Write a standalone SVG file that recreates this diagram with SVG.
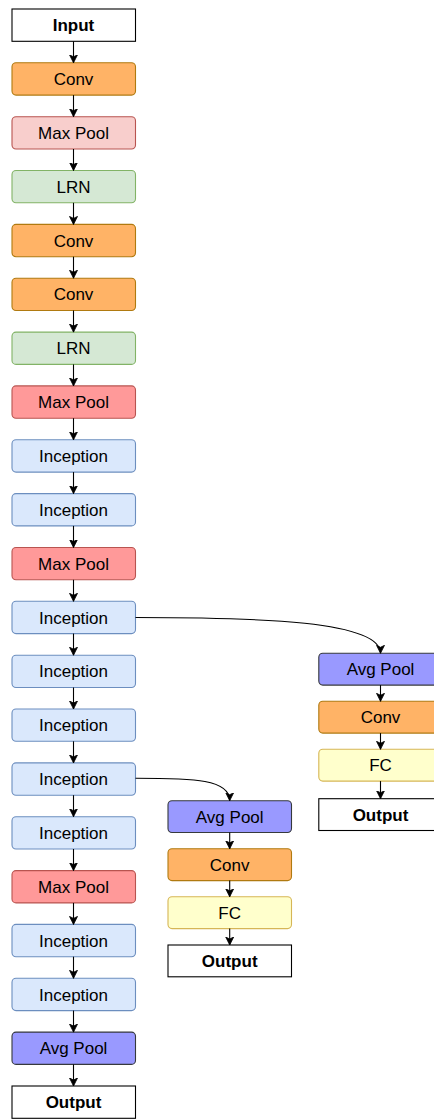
<svg xmlns="http://www.w3.org/2000/svg" width="434" height="1120" viewBox="0 0 434 1120">
  <style>
    .box { stroke-width: 1.1; }
    .io { fill: #ffffff; stroke: #000000; }
    .conv { fill: #FFB366; stroke: #B07A10; }
    .mp1 { fill: #F8CECC; stroke: #B85450; }
    .mp { fill: #FF9999; stroke: #B85450; }
    .lrn { fill: #D5E8D4; stroke: #82B366; }
    .inc { fill: #DAE8FC; stroke: #6C8EBF; }
    .avg { fill: #9999FF; stroke: #36393D; }
    .fc { fill: #FFFFCC; stroke: #D6B656; }
    text { font-family: "Liberation Sans", Arial, Helvetica, sans-serif; font-size: 17px; fill: #000; text-anchor: middle; }
    text.b { font-weight: bold; }
    .edge { fill: none; stroke: #000; stroke-width: 1.1; }
  </style>
  <defs>
    <marker id="arrow" markerWidth="10" markerHeight="10" refX="8" refY="4.5" orient="auto" markerUnits="userSpaceOnUse">
      <path d="M0,0.5 L8,4.5 L0,8.5 L2,4.5 Z" fill="#000" stroke="#000" stroke-width="0.8"/>
    </marker>
  </defs>

  <!-- main column -->
  <g id="input"><rect class="box io" x="12" y="9" width="123.5" height="32.3"/><text class="b" x="73.5" y="31.2">Input</text></g>
  <g id="conv1"><rect class="box conv" x="12" y="62.8" width="123.5" height="32.3" rx="4"/><text x="73.5" y="85">Conv</text></g>
  <g id="maxpool1"><rect class="box mp1" x="12" y="116.7" width="123.5" height="32.3" rx="4"/><text x="73.5" y="138.9">Max Pool</text></g>
  <g id="lrn1"><rect class="box lrn" x="12" y="170.5" width="123.5" height="32.3" rx="4"/><text x="73.5" y="192.7">LRN</text></g>
  <g id="conv2"><rect class="box conv" x="12" y="224.4" width="123.5" height="32.3" rx="4"/><text x="73.5" y="246.6">Conv</text></g>
  <g id="conv3"><rect class="box conv" x="12" y="278.2" width="123.5" height="32.3" rx="4"/><text x="73.5" y="300.4">Conv</text></g>
  <g id="lrn2"><rect class="box lrn" x="12" y="332.1" width="123.5" height="32.3" rx="4"/><text x="73.5" y="354.3">LRN</text></g>
  <g id="maxpool2"><rect class="box mp" x="12" y="385.9" width="123.5" height="32.3" rx="4"/><text x="73.5" y="408.1">Max Pool</text></g>
  <g id="inception3a"><rect class="box inc" x="12" y="439.8" width="123.5" height="32.3" rx="4"/><text x="73.5" y="462">Inception</text></g>
  <g id="inception3b"><rect class="box inc" x="12" y="493.6" width="123.5" height="32.3" rx="4"/><text x="73.5" y="515.8">Inception</text></g>
  <g id="maxpool3"><rect class="box mp" x="12" y="547.5" width="123.5" height="32.3" rx="4"/><text x="73.5" y="569.7">Max Pool</text></g>
  <g id="inception4a"><rect class="box inc" x="12" y="601.3" width="123.5" height="32.3" rx="4"/><text x="73.5" y="623.5">Inception</text></g>
  <g id="inception4b"><rect class="box inc" x="12" y="655.2" width="123.5" height="32.3" rx="4"/><text x="73.5" y="677.4">Inception</text></g>
  <g id="inception4c"><rect class="box inc" x="12" y="709" width="123.5" height="32.3" rx="4"/><text x="73.5" y="731.2">Inception</text></g>
  <g id="inception4d"><rect class="box inc" x="12" y="762.9" width="123.5" height="32.3" rx="4"/><text x="73.5" y="785.1">Inception</text></g>
  <g id="inception4e"><rect class="box inc" x="12" y="816.7" width="123.5" height="32.3" rx="4"/><text x="73.5" y="838.9">Inception</text></g>
  <g id="maxpool4"><rect class="box mp" x="12" y="870.6" width="123.5" height="32.3" rx="4"/><text x="73.5" y="892.8">Max Pool</text></g>
  <g id="inception5a"><rect class="box inc" x="12" y="924.4" width="123.5" height="32.3" rx="4"/><text x="73.5" y="946.6">Inception</text></g>
  <g id="inception5b"><rect class="box inc" x="12" y="978.3" width="123.5" height="32.3" rx="4"/><text x="73.5" y="1000.5">Inception</text></g>
  <g id="avgpool"><rect class="box avg" x="12" y="1032.1" width="123.5" height="32.3" rx="4"/><text x="73.5" y="1054.3">Avg Pool</text></g>
  <g id="output"><rect class="box io" x="12" y="1086" width="123.5" height="32.3"/><text class="b" x="73.5" y="1108.2">Output</text></g>

  <!-- auxiliary classifier 2 -->
  <g id="aux2-avgpool"><rect class="box avg" x="168" y="800.7" width="123.5" height="31.8" rx="4"/><text x="229.7" y="822.7">Avg Pool</text></g>
  <g id="aux2-conv"><rect class="box conv" x="168" y="848.8" width="123.5" height="31.8" rx="4"/><text x="229.7" y="870.8">Conv</text></g>
  <g id="aux2-fc"><rect class="box fc" x="168" y="896.8" width="123.5" height="31.8" rx="4"/><text x="229.7" y="918.8">FC</text></g>
  <g id="aux2-output"><rect class="box io" x="168" y="945" width="123.5" height="31.8"/><text class="b" x="229.7" y="967">Output</text></g>

  <!-- auxiliary classifier 1 -->
  <g id="aux1-avgpool"><rect class="box avg" x="318.8" y="653.3" width="123.5" height="31.8" rx="4"/><text x="380.5" y="675.3">Avg Pool</text></g>
  <g id="aux1-conv"><rect class="box conv" x="318.8" y="701.3" width="123.5" height="31.8" rx="4"/><text x="380.5" y="723.3">Conv</text></g>
  <g id="aux1-fc"><rect class="box fc" x="318.8" y="749.3" width="123.5" height="31.8" rx="4"/><text x="380.5" y="771.3">FC</text></g>
  <g id="aux1-output"><rect class="box io" x="318.8" y="798.7" width="123.5" height="31.8"/><text class="b" x="380.5" y="820.7">Output</text></g>

  <!-- connectors -->
  <g id="connectors" class="edges">
    <path class="edge" marker-end="url(#arrow)" d="M73.5,41.3 V62.8"/>
    <path class="edge" marker-end="url(#arrow)" d="M73.5,95.1 V116.7"/>
    <path class="edge" marker-end="url(#arrow)" d="M73.5,149 V170.5"/>
    <path class="edge" marker-end="url(#arrow)" d="M73.5,202.8 V224.4"/>
    <path class="edge" marker-end="url(#arrow)" d="M73.5,256.7 V278.2"/>
    <path class="edge" marker-end="url(#arrow)" d="M73.5,310.5 V332.1"/>
    <path class="edge" marker-end="url(#arrow)" d="M73.5,364.4 V385.9"/>
    <path class="edge" marker-end="url(#arrow)" d="M73.5,418.2 V439.8"/>
    <path class="edge" marker-end="url(#arrow)" d="M73.5,472.1 V493.6"/>
    <path class="edge" marker-end="url(#arrow)" d="M73.5,525.9 V547.5"/>
    <path class="edge" marker-end="url(#arrow)" d="M73.5,579.8 V601.3"/>
    <path class="edge" marker-end="url(#arrow)" d="M73.5,633.6 V655.2"/>
    <path class="edge" marker-end="url(#arrow)" d="M73.5,687.5 V709"/>
    <path class="edge" marker-end="url(#arrow)" d="M73.5,741.3 V762.9"/>
    <path class="edge" marker-end="url(#arrow)" d="M73.5,795.2 V816.7"/>
    <path class="edge" marker-end="url(#arrow)" d="M73.5,849 V870.6"/>
    <path class="edge" marker-end="url(#arrow)" d="M73.5,902.9 V924.4"/>
    <path class="edge" marker-end="url(#arrow)" d="M73.5,956.7 V978.3"/>
    <path class="edge" marker-end="url(#arrow)" d="M73.5,1010.6 V1032.1"/>
    <path class="edge" marker-end="url(#arrow)" d="M73.5,1064.4 V1086"/>

    <path class="edge" marker-end="url(#arrow)" d="M135.5,617.5 C260,617.5 380.5,621 380.5,653.3"/>
    <path class="edge" marker-end="url(#arrow)" d="M135.5,778.3 C195,778.3 229.7,779.5 229.7,800.7"/>

    <path class="edge" marker-end="url(#arrow)" d="M229.7,832.5 V848.8"/>
    <path class="edge" marker-end="url(#arrow)" d="M229.7,880.6 V896.8"/>
    <path class="edge" marker-end="url(#arrow)" d="M229.7,928.6 V945"/>

    <path class="edge" marker-end="url(#arrow)" d="M380.5,685.1 V701.3"/>
    <path class="edge" marker-end="url(#arrow)" d="M380.5,733.1 V749.3"/>
    <path class="edge" marker-end="url(#arrow)" d="M380.5,781.1 V798.7"/>
  </g>
</svg>
